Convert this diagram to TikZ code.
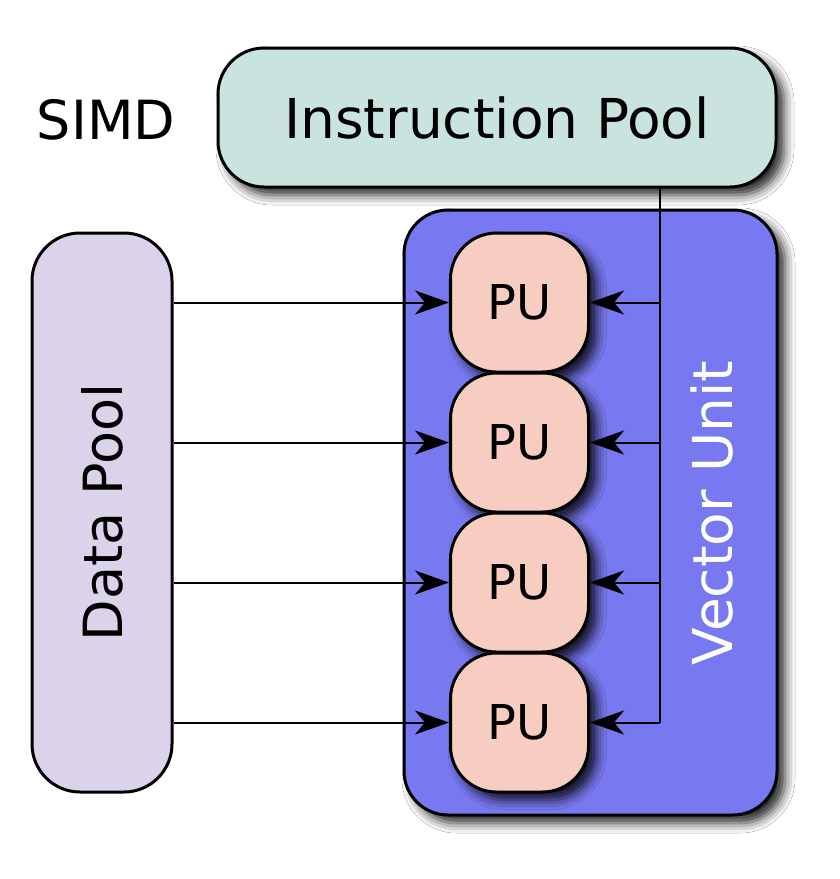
\documentclass[tikz,border=0pt]{standalone}
\usepackage{fontspec}
\setmainfont{DejaVu Sans}
\usetikzlibrary{positioning,arrows.meta,shadows.blur}

\definecolor{instrfill}{HTML}{C9E4DF}
\definecolor{vecfill}{HTML}{7878F0}
\definecolor{datafill}{HTML}{DAD3EA}
\definecolor{pufill}{HTML}{F8CDC1}

\begin{document}
\begin{tikzpicture}[x=0.5pt,y=-0.5pt,
    pool/.style={draw,line width=1.5pt,inner sep=0pt},
    shade/.style={blur shadow={shadow xshift=4pt,shadow yshift=-4pt,shadow blur radius=5pt,shadow opacity=85}},
    pu/.style={pool,shade,fill=pufill,rounded corners=23pt,
      minimum width=69pt,minimum height=69.5pt,font=\fontsize{24}{28}\selectfont},
    feed/.style={line width=1pt,-{Stealth[length=17pt,width=12pt,inset=5pt]}}]
  \useasboundingbox[fill=white] (0,0) rectangle (840,879);

  \node (simd) at (106,120) {\fontsize{27}{32}\selectfont SIMD};
  \node[pool,shade,fill=instrfill,rounded corners=23pt,minimum width=279pt,minimum height=69.5pt,
        font=\fontsize{27.5}{32}\selectfont] (ip) at (497,117.5) {Instruction Pool};
  \node[pool,shade,fill=vecfill,rounded corners=22pt,minimum width=186.5pt,minimum height=302.5pt]
        (vu) at (590.5,512.5) {};
  \node[white,rotate=90,font=\fontsize{27.5}{32}\selectfont] (vulabel) at (712,513) {Vector Unit};
  \node[pool,fill=datafill,rounded corners=24pt,minimum width=70pt,minimum height=279.5pt,
        font=\fontsize{27}{32}\selectfont] (dp) at (102,512.5) {\rotatebox{90}{Data Pool}};

  \node[pu] (pu1) at (519.5,302.5) {PU};
  \node[pu] (pu2) at (519.5,442.5) {PU};
  \node[pu] (pu3) at (519.5,582.5) {PU};
  \node[pu] (pu4) at (519.5,722.5) {PU};

  % instruction bus
  \coordinate (bus) at (660,722.5);
  \draw[line width=1pt] (ip.south -| bus) -- (bus);
  \draw[feed] (pu1 -| bus) -- (pu1.east);
  \draw[feed] (pu2 -| bus) -- (pu2.east);
  \draw[feed] (pu3 -| bus) -- (pu3.east);
  \draw[feed] (bus) -- (pu4.east);

  % data lines
  \draw[feed] (pu1 -| dp.east) -- (pu1.west);
  \draw[feed] (pu2 -| dp.east) -- (pu2.west);
  \draw[feed] (pu3 -| dp.east) -- (pu3.west);
  \draw[feed] (pu4 -| dp.east) -- (pu4.west);
\end{tikzpicture}
\end{document}
